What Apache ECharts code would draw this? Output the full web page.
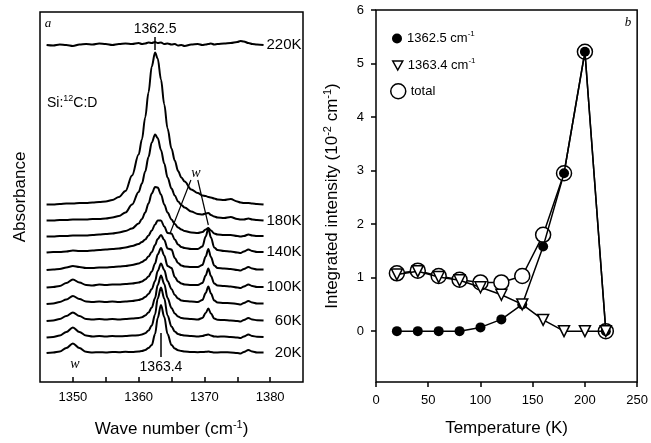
<!DOCTYPE html>
<html>
<head>
<meta charset="utf-8">
<script src="https://cdn.jsdelivr.net/npm/echarts@6.0.0/dist/echarts.min.js"></script>
<style>html,body{margin:0;padding:0;background:#fff}#main{width:651px;height:443px}</style>
</head>
<body>
<div id="main"></div>
<script>
// ---------- Panel a: IR spectra (offset traces) ----------
const wavenumbers = [1346,1347,1348,1349,1350,1351,1352,1353,1354,1355,1356,1357,1358,1359,
  1360,1360.5,1361,1361.5,1362,1362.5,1362.9,1363.4,1363.9,1364.4,1365,1365.5,1366,1366.5,1367,
  1368,1369,
  1369.7,1370.2,1370.6,1371,1371.5,1372,
  1373,1374,1375,1375.5,1376,1376.7,1377.3,1378,1379];

const traceTemps  = ['20K','40K','60K','80K','100K','120K','140K','160K','180K','200K','220K'];
const traceLabels = ['20K','','60K','','100K','','140K','','180K','','220K'];
const traceOffsets = [2.9, 4.45, 6.1, 7.8, 9.45, 11.2, 12.95, 14.55, 16.15, 17.75, 33.7];

const t20 = [0,0.05,0.15,0.5,0.95,0.5,0.12,0.05,0.08,0.05,0.1,0.08,0.12,0.1,
  0.15,0.2,0.3,0.5,0.8,1.9,3.5,4.8,3.6,1.9,0.8,0.45,0.28,0.2,0.15,
  0.1,0.08,
  0.1,0.12,0.15,0.1,0.05,0.05,
  0.08,0.05,0,-0.05,0.1,0.3,0.15,0.05,0.05];
const t40 = [0,0.05,0.2,0.55,1.0,0.55,0.2,0.1,0.15,0.1,0.15,0.12,0.15,0.2,
  0.22,0.3,0.42,0.7,1.2,2.3,3.9,5.0,3.9,2.2,1.1,0.6,0.35,0.25,0.2,
  0.15,0.1,
  0.15,0.25,0.3,0.2,0.1,0.08,
  0.1,0.05,0,-0.05,0.1,0.3,0.15,0.08,0.05];
const t60 = [0,0.05,0.2,0.5,0.85,0.5,0.2,0.15,0.2,0.15,0.2,0.15,0.2,0.25,
  0.3,0.38,0.55,0.85,1.35,2.3,3.6,4.55,3.7,2.3,1.3,0.75,0.45,0.3,0.25,
  0.2,0.15,
  0.3,0.8,1.25,0.75,0.25,0.12,
  0.1,0.05,0,-0.05,0.1,0.3,0.15,0.08,0.05];
const t80 = [0,0.05,0.2,0.45,0.8,0.5,0.25,0.2,0.25,0.2,0.25,0.2,0.25,0.3,
  0.4,0.5,0.7,1.0,1.5,2.3,3.3,4.05,3.4,2.3,1.5,0.9,0.55,0.35,0.3,
  0.25,0.2,
  0.4,1.1,1.75,1.05,0.35,0.15,
  0.1,0.08,0,-0.05,0.1,0.3,0.15,0.05,0.05];
const t100 = [0,0.05,0.15,0.45,0.8,0.5,0.25,0.2,0.3,0.25,0.3,0.3,0.35,0.4,
  0.5,0.6,0.8,1.1,1.6,2.4,3.3,3.95,3.2,2.15,1.95,1.05,0.6,0.4,0.3,
  0.25,0.25,
  0.45,1.2,1.9,1.15,0.4,0.2,
  0.15,0.1,0,-0.05,0.1,0.3,0.15,0.05,0.05];
const t120 = [0,0.05,0.1,0.25,0.4,0.3,0.2,0.2,0.25,0.25,0.3,0.35,0.4,0.5,
  0.65,0.8,1.0,1.35,1.8,2.5,3.1,3.5,3.0,2.15,2.05,1.2,0.7,0.45,0.35,
  0.3,0.3,
  0.5,1.35,2.1,1.3,0.45,0.2,
  0.15,0.1,0,-0.05,0.1,0.3,0.15,0.05,0.05];
const t140 = [0,0.05,0.05,0.1,0.2,0.15,0.15,0.2,0.25,0.3,0.35,0.4,0.5,0.65,
  0.85,1.05,1.3,1.7,2.2,2.8,3.2,3.2,2.6,1.95,1.9,1.3,0.8,0.55,0.45,
  0.35,0.35,
  0.6,1.6,2.4,1.5,0.5,0.25,
  0.15,0.1,0,-0.05,0.1,0.3,0.15,0.05,0.05];
const t160 = [0,0,0.05,0.05,0.1,0.1,0.1,0.15,0.2,0.25,0.3,0.4,0.55,0.8,
  1.3,1.75,2.4,3.3,4.3,4.95,4.9,4.2,3.2,2.4,1.7,1.25,0.9,0.7,0.55,
  0.4,0.35,
  0.45,0.7,0.85,0.6,0.3,0.2,
  0.15,0.15,0.05,0,0.05,0.2,0.1,0.05,0.05];
const t180 = [0,0,0.05,0.05,0.1,0.1,0.1,0.15,0.15,0.2,0.3,0.45,0.8,1.6,
  2.85,3.7,4.9,6.35,7.8,8.6,8.25,7.05,5.7,4.3,3.2,2.5,1.9,1.55,1.3,
  0.9,0.65,
  0.6,0.7,0.75,0.55,0.4,0.3,
  0.25,0.35,0.15,0.1,0.1,0.2,0.1,0.05,0];
const t200 = [0,0,0.05,0.1,0.1,0.15,0.15,0.2,0.25,0.3,0.45,0.75,1.35,2.9,
  5.0,6.5,8.7,11.2,13.8,15.2,14.6,12.5,10.0,7.6,5.6,4.4,3.35,2.7,2.3,
  1.5,1.15,
  0.9,0.85,0.75,0.7,0.6,0.5,
  0.45,0.55,0.3,0.2,0.15,0.15,0.1,0.05,0];
const t220 = [0,-0.05,0.05,0,-0.1,0.05,0.1,0.05,0.15,0.1,0,0.1,0.15,0.1,
  0.2,0.1,0.15,0.25,0.2,0.3,0.2,0.25,0.1,0.15,0.05,0.1,-0.05,0,-0.1,
  0.05,0.1,
  0,0.05,0.1,0.15,0.05,0.1,
  0.15,0.2,0.3,0.4,0.35,0.2,0.1,0.05,0];
const traces = [t20,t40,t60,t80,t100,t120,t140,t160,t180,t200,t220];

const waveTickValues  = [1350,1355,1360,1365,1370,1375,1380];
const waveLabelValues = [1350,1360,1370,1380];

// ---------- Panel b: integrated intensities ----------
const temperatures = [20,40,60,80,100,120,140,160,180,200,220];
const int13625 = [0,0,0,0,0.07,0.22,0.5,1.58,2.95,5.22,0];
const int13634 = [1.06,1.12,1.01,0.95,0.82,0.68,0.5,0.21,0,0,0];
const intTotal = [1.08,1.13,1.03,0.96,0.91,0.91,1.03,1.8,2.95,5.22,0];
const tempTicks = [0,50,100,150,200,250];
const intTicks = [0,1,2,3,4,5,6];

// ---------- build ----------
const FONT = '"Liberation Sans", Arial, Helvetica, sans-serif';
const SERIF = '"Liberation Serif", "Times New Roman", serif';
const BLACK = '#000';
const plain = (v) => String(v);
const supRich = (size) => ({
  n: {fontSize: size, lineHeight: size + 4, fontFamily: FONT, color: BLACK},
  s: {fontSize: Math.round(size * 0.62), lineHeight: Math.round(size * 0.75), verticalAlign: 'top', fontFamily: FONT, color: BLACK}
});

const chart = echarts.init(document.getElementById('main'), null, {renderer: 'canvas'});

const spectraSeries = traces.map((vals, k) => {
  const s = {
    type: 'line',
    name: traceTemps[k],
    xAxisIndex: 0, yAxisIndex: 0,
    data: wavenumbers.map((w, i) => [w, traceOffsets[k] + vals[i]]),
    showSymbol: false,
    smooth: 0.35,
    smoothMonotone: 'x',
    lineStyle: {color: BLACK, width: 2},
    silent: true,
    z: 3
  };
  if (traceLabels[k]) {
    s.endLabel = {
      show: true,
      formatter: '{t|' + traceLabels[k] + '}',
      distance: 2,
      rich: {t: {width: 36, align: 'right', fontSize: 15, fontFamily: FONT, color: BLACK}}
    };
  }
  return s;
});

// annotation lines
spectraSeries[0].markLine = {
  symbol: 'none', silent: true, animation: false,
  lineStyle: {color: BLACK, width: 1.5, type: 'solid'},
  label: {show: true, position: 'start', formatter: '1363.4', color: BLACK, fontSize: 14, fontFamily: FONT, distance: 3},
  data: [[{coord: [1363.4, 2.5]}, {coord: [1363.4, 4.9]}]]
};
spectraSeries[10].markLine = {
  symbol: 'none', silent: true, animation: false,
  lineStyle: {color: BLACK, width: 1.5, type: 'solid'},
  label: {show: true, position: 'start', formatter: '1362.5', color: BLACK, fontSize: 14, fontFamily: FONT, distance: 1},
  data: [[{coord: [1362.5, 34.5]}, {coord: [1362.5, 33.2]}]]
};
spectraSeries[6].markLine = {
  symbol: 'none', silent: true, animation: false,
  lineStyle: {color: BLACK, width: 1.2, type: 'solid'},
  label: {show: false},
  data: [
    [{coord: [1367.95, 20.2]}, {coord: [1364.8, 14.9]}],
    [{coord: [1369.0, 20.2]}, {coord: [1370.6, 15.7]}]
  ]
};

const option = {
  animation: false,
  backgroundColor: '#fff',
  grid: [
    {left: 40, top: 12, width: 263, height: 370, show: true, borderColor: BLACK, borderWidth: 1.5, backgroundColor: 'transparent'},
    {left: 376, top: 10, width: 263, height: 372, show: true, borderColor: BLACK, borderWidth: 1.5, backgroundColor: 'transparent'}
  ],
  xAxis: [
    {
      gridIndex: 0, type: 'value', min: 1345, max: 1385,
      axisLine: {show: false, onZero: false}, splitLine: {show: false},
      axisTick: {show: true, inside: true, length: 5, customValues: waveTickValues, lineStyle: {color: BLACK, width: 1.5}},
      axisLabel: {customValues: waveLabelValues, formatter: plain, color: BLACK, fontSize: 13, fontFamily: FONT, margin: 9},
      name: '{n|Wave number (cm}{s|-1}{n|)}',
      nameLocation: 'middle', nameGap: 37,
      nameTextStyle: {fontSize: 17, fontFamily: FONT, color: BLACK, rich: supRich(17)}
    },
    {
      gridIndex: 1, type: 'value', min: 0, max: 250,
      axisLine: {show: false, onZero: false}, splitLine: {show: false},
      axisTick: {show: true, inside: false, length: 5, customValues: tempTicks, lineStyle: {color: BLACK, width: 1.5}},
      axisLabel: {customValues: tempTicks, formatter: plain, color: BLACK, fontSize: 13, fontFamily: FONT, margin: 12},
      name: 'Temperature (K)',
      nameLocation: 'middle', nameGap: 38,
      nameTextStyle: {fontSize: 17, fontFamily: FONT, color: BLACK}
    }
  ],
  yAxis: [
    {
      gridIndex: 0, type: 'value', min: 0, max: 37,
      axisLine: {show: false, onZero: false}, axisTick: {show: false}, axisLabel: {show: false}, splitLine: {show: false},
      name: 'Absorbance', nameLocation: 'middle', nameRotate: 90, nameGap: 11,
      nameTextStyle: {fontSize: 17, fontFamily: FONT, color: BLACK}
    },
    {
      gridIndex: 1, type: 'value', min: -0.95, max: 6,
      axisLine: {show: false, onZero: false}, splitLine: {show: false},
      axisTick: {show: true, inside: false, length: 5, customValues: intTicks, lineStyle: {color: BLACK, width: 1.5}},
      axisLabel: {customValues: intTicks, formatter: plain, color: BLACK, fontSize: 13, fontFamily: FONT, margin: 12},
      name: '{n|Integrated intensity (10}{s|-2}{n| cm}{s|-1}{n|)}',
      nameLocation: 'middle', nameRotate: 90, nameGap: 33,
      nameTextStyle: {fontSize: 17, fontFamily: FONT, color: BLACK, rich: supRich(17)}
    }
  ],
  legend: [
    {
      left: 387, top: 25, itemWidth: 10, itemHeight: 10, itemGap: 0, itemTextGap: 6,
      data: [{name: '1362.5', icon: 'circle'}],
      itemStyle: {color: BLACK, borderWidth: 0},
      formatter: () => '{n|1362.5 cm}{s|-1}',
      textStyle: {rich: supRich(13)}, selectedMode: false
    },
    {
      left: 387, top: 52, itemWidth: 10, itemHeight: 10, itemGap: 0, itemTextGap: 6,
      data: [{name: '1363.4', icon: 'path://M0,0L10,0L5,9Z'}],
      itemStyle: {color: '#fff', borderColor: BLACK, borderWidth: 1.5},
      formatter: () => '{n|1363.4 cm}{s|-1}',
      textStyle: {rich: supRich(13)}, selectedMode: false
    },
    {
      left: 385, top: 78, itemWidth: 15, itemHeight: 15, itemGap: 0, itemTextGap: 5,
      data: [{name: 'total', icon: 'circle'}],
      itemStyle: {color: '#fff', borderColor: BLACK, borderWidth: 1.5},
      textStyle: {fontSize: 13, fontFamily: FONT, color: BLACK}, selectedMode: false
    }
  ],
  graphic: [
    {type: 'text', x: 48, y: 24, style: {text: 'a', font: 'italic 13px ' + SERIF, fill: BLACK, align: 'center', verticalAlign: 'middle'}},
    {type: 'text', x: 628, y: 23, style: {text: 'b', font: 'italic 13px ' + SERIF, fill: BLACK, align: 'center', verticalAlign: 'middle'}},
    {type: 'text', x: 196, y: 173, style: {text: 'w', font: 'italic 14px ' + SERIF, fill: BLACK, align: 'center', verticalAlign: 'middle'}},
    {type: 'text', x: 75, y: 364, style: {text: 'w', font: 'italic 14px ' + SERIF, fill: BLACK, align: 'center', verticalAlign: 'middle'}},
    {type: 'text', x: 47, y: 103, style: {
      text: '{n|Si:}{s|12}{n|C:D}', verticalAlign: 'middle',
      rich: supRich(14)
    }}
  ],
  series: spectraSeries.concat([
    {
      type: 'line', name: 'total', xAxisIndex: 1, yAxisIndex: 1,
      data: temperatures.map((t, i) => [t, intTotal[i]]),
      symbol: 'circle', symbolSize: 15, showAllSymbol: true,
      itemStyle: {color: '#fff', borderColor: BLACK, borderWidth: 1.5},
      lineStyle: {color: BLACK, width: 1.5}, z: 4, silent: true
    },
    {
      type: 'line', name: '1362.5', xAxisIndex: 1, yAxisIndex: 1,
      data: temperatures.map((t, i) => [t, int13625[i]]),
      symbol: 'circle', symbolSize: 10, showAllSymbol: true,
      itemStyle: {color: BLACK, borderColor: BLACK, borderWidth: 0},
      lineStyle: {color: BLACK, width: 1.5}, z: 5, silent: true
    },
    {
      type: 'line', name: '1363.4', xAxisIndex: 1, yAxisIndex: 1,
      data: temperatures.map((t, i) => [t, int13634[i]]),
      symbol: 'triangle', symbolRotate: 180, symbolSize: 11, showAllSymbol: true,
      itemStyle: {color: '#fff', borderColor: BLACK, borderWidth: 1.5},
      lineStyle: {color: BLACK, width: 1.5}, z: 6, silent: true
    }
  ])
};
chart.setOption(option);
</script>
</body>
</html>
